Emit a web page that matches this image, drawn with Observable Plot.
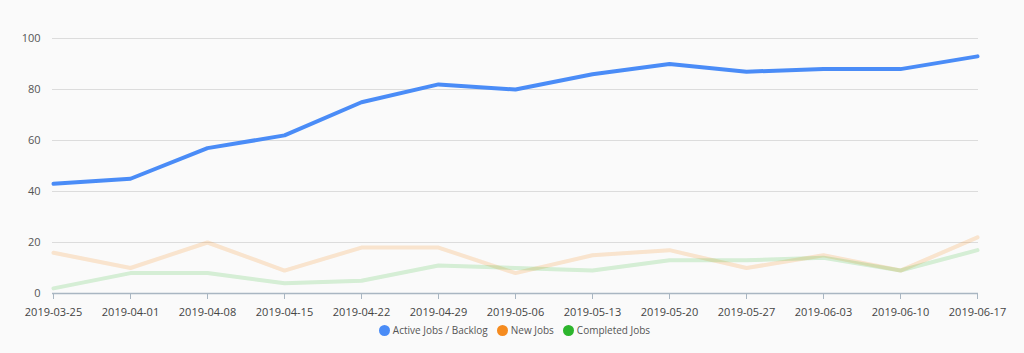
<!DOCTYPE html>
<html>
<head>
<meta charset="utf-8">
<script src="https://cdn.jsdelivr.net/npm/d3@7"></script>
<script src="https://cdn.jsdelivr.net/npm/@observablehq/plot@0.6"></script>
<style>
  html, body { margin: 0; padding: 0; background: #fafafa; }
  body { width: 1024px; height: 353px; overflow: hidden; font-family: "Open Sans", sans-serif; }
  #legend { display: flex; justify-content: center; gap: 9px; font-size: 10px; color: #555; margin-top: 3px; padding-left: 5px; }
  #legend .item { display: flex; align-items: center; gap: 3px; }
  #legend .sw { width: 11px; height: 11px; border-radius: 50%; display: inline-block; }
</style>
</head>
<body>
<div id="chart"></div>
<div id="legend"></div>
<script>
const dates = ["2019-03-25","2019-04-01","2019-04-08","2019-04-15","2019-04-22","2019-04-29","2019-05-06","2019-05-13","2019-05-20","2019-05-27","2019-06-03","2019-06-10","2019-06-17"];
const activeJobs = [43, 45, 57, 62, 75, 82, 80, 86, 90, 87, 88, 88, 93];
const newJobs = [16, 10, 20, 9, 18, 18, 8, 15, 17, 10, 15, 9, 22];
const completedJobs = [2, 8, 8, 4, 5, 11, 10, 9, 13, 13, 14, 9, 17];
const seriesNames = ["Active Jobs / Backlog", "New Jobs", "Completed Jobs"];
const seriesColors = ["#4a8cf7", "#f58b1f", "#2db52d"];
const yTicks = [0, 20, 40, 60, 80, 100];

const rows = (vals, name) => vals.map((v, i) => ({date: dates[i], value: v, series: name}));
const activeRows = rows(activeJobs, seriesNames[0]);
const newRows = rows(newJobs, seriesNames[1]);
const completedRows = rows(completedJobs, seriesNames[2]);

const chart = Plot.plot({
  width: 1024,
  height: 320,
  marginLeft: 52,
  marginRight: 46,
  marginTop: 38,
  marginBottom: 27,
  style: {background: "#fafafa", fontFamily: "Open Sans, sans-serif", fontSize: "11px"},
  x: {type: "point", domain: dates, padding: 0, label: null},
  y: {domain: [0, 100], label: null},
  marks: [
    Plot.gridY(yTicks.filter(d => d > 0), {stroke: "#dcdcdc", strokeOpacity: 1, strokeWidth: 1}),
    Plot.axisY(yTicks, {tickSize: 0, tickPadding: 12, fill: "#555", fontSize: 11, label: null}),
    Plot.axisX(dates, {tickSize: 6, stroke: "#a9b6c2", fill: "#444", tickPadding: 9, fontSize: 11, label: null}),
    Plot.ruleY([0], {stroke: "#a9b6c2", strokeWidth: 1.5}),
    Plot.line(newRows, {x: "date", y: "value", stroke: seriesColors[1], strokeOpacity: 0.2, strokeWidth: 4}),
    Plot.line(completedRows, {x: "date", y: "value", stroke: seriesColors[2], strokeOpacity: 0.18, strokeWidth: 4}),
    Plot.line(activeRows, {x: "date", y: "value", stroke: seriesColors[0], strokeWidth: 4})
  ]
});
document.getElementById("chart").appendChild(chart);

const legend = document.getElementById("legend");
seriesNames.forEach((n, i) => {
  const it = document.createElement("span");
  it.className = "item";
  const sw = document.createElement("span");
  sw.className = "sw";
  sw.style.background = seriesColors[i];
  it.appendChild(sw);
  const t = document.createElement("span");
  t.textContent = n;
  it.appendChild(t);
  legend.appendChild(it);
});
</script>
</body>
</html>
